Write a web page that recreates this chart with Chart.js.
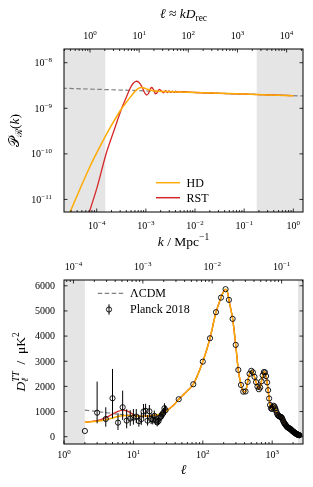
<!DOCTYPE html>
<html lang="en">
<head>
<meta charset="UTF-8">
<title>Primordial spectrum and CMB TT</title>
<script src="https://cdn.jsdelivr.net/npm/chart.js@4"></script>
<style>
  html, body { margin: 0; padding: 0; background: #fff; }
  canvas { display: block; }
</style>
</head>
<body>
<canvas id="pkChart" width="313" height="252"></canvas>
<canvas id="clChart" width="313" height="235"></canvas>
<script>
// ---------- top panel: P_R(k) ----------
const D_REC = 13680;                  // Mpc, l ~ k * D_rec
const K_MIN = 2.16e-5, K_MAX = 1.575;
const P_MIN = 5.3e-12, P_MAX = 2.0e-8;
const K_SHADE_LO = 1.5e-4, K_SHADE_HI = 0.18;

const lcdmK = [2e-5, 1e-4, 1e-3, 1e-2, 1e-1, 1, 2];
const lcdmP = [2.76e-9, 2.61e-9, 2.41e-9, 2.22e-9, 2.05e-9, 1.89e-9, 1.85e-9];

const hdK = [2.37e-5, 2.86e-5, 4.57e-5, 7.31e-5, 1.168e-4, 1.865e-4, 2.98e-4, 3.77e-4, 4.76e-4, 5.74e-4,
  6.61e-4, 7.60e-4, 8.75e-4, 1.106e-3, 1.535e-3, 2.452e-3];
const hdP = [3.26e-12, 5.24e-12, 1.70e-11, 5.29e-11, 1.453e-10, 3.70e-10, 8.72e-10, 1.243e-9, 1.725e-9, 2.22e-9,
  2.61e-9, 2.83e-9, 2.83e-9, 2.585e-9, 2.395e-9, 2.335e-9];

const rstK = [5.78e-5, 7.06e-5, 1.01e-4, 1.55e-4, 2.23e-4, 3.23e-4, 3.95e-4, 4.76e-4, 5.48e-4, 6.31e-4,
  7.26e-4, 8.36e-4, 9.40e-4, 1.03e-3, 1.13e-3, 1.21e-3, 1.31e-3, 1.43e-3, 1.56e-3, 1.69e-3,
  1.85e-3, 2.03e-3, 2.29e-3, 2.53e-3, 2.74e-3, 2.96e-3, 3.21e-3, 3.45e-3, 3.74e-3, 4.05e-3,
  4.38e-3, 4.73e-3, 5.12e-3, 5.52e-3, 7.91e-3];
const rstP = [2.75e-12, 5.24e-12, 1.79e-11, 9.95e-11, 3.18e-10, 1.0e-9, 1.68e-9, 2.72e-9, 3.50e-9, 3.91e-9,
  3.68e-9, 2.93e-9, 2.22e-9, 1.96e-9, 2.11e-9, 2.58e-9, 2.86e-9, 2.58e-9, 2.09e-9, 2.19e-9,
  2.58e-9, 2.45e-9, 2.19e-9, 2.44e-9, 2.22e-9, 2.42e-9, 2.23e-9, 2.39e-9, 2.24e-9, 2.37e-9,
  2.25e-9, 2.35e-9, 2.27e-9, 2.32e-9, 2.24e-9];

// ---------- bottom panel: D_l^TT ----------
const L_MIN = 1, L_MAX = 2780;
const D_MIN = -290, D_MAX = 6230;
const L_SHADE_LO = 2, L_SHADE_HI = 2350;
const dTicks = [0, 1000, 2000, 3000, 4000, 5000, 6000];

// Planck 2018, low l (unbinned) with error bar ends
const lowL  = [2, 3, 4, 5, 6, 7, 8, 9, 10, 11, 12, 13, 14, 15, 16, 17, 18, 19, 20, 21, 22, 23, 24, 25, 26, 27, 28, 29];
const lowD  = [227, 955, 704, 1528, 560, 1170, 640, 720, 760, 800, 620, 700, 1000, 1030, 640, 1010, 700, 680, 830, 650, 570, 620, 760, 800, 880, 950, 1130, 1050];
const lowLo = [227, 533, 398, 732, 267, 665, 334, 430, 480, 540, 400, 470, 740, 780, 440, 780, 500, 490, 640, 480, 410, 460, 580, 620, 700, 770, 940, 870];
const lowHi = [227, 2189, 1170, 2694, 931, 1831, 1090, 1050, 1100, 1100, 870, 950, 1300, 1310, 860, 1260, 920, 890, 1040, 840, 750, 800, 950, 1000, 1070, 1140, 1330, 1240];

// Planck 2018, binned high l
const highL = [45, 73, 100, 127, 155, 183, 213, 238, 269, 298, 325, 355, 383, 413, 443, 472, 500, 528, 556, 585,
  614, 643, 672, 700, 729, 758, 787, 816, 845, 874, 903, 932, 961, 990, 1019, 1048, 1077, 1106, 1135, 1164,
  1193, 1222, 1251, 1280, 1309, 1338, 1367, 1396, 1425, 1454, 1483, 1512, 1541, 1570, 1599, 1628, 1657, 1686, 1715, 1744,
  1773, 1802, 1831, 1860, 1889, 1918, 1947, 1976, 2005, 2034, 2063, 2092, 2121, 2150, 2179, 2208, 2237, 2266, 2295, 2324,
  2353, 2382, 2411, 2440, 2469];
const highD = [1490, 2085, 2985, 3915, 4950, 5530, 5866, 5440, 4685, 3650, 2655, 2058, 1790, 1800, 2180, 2500, 2620, 2560, 2380, 2170,
  1990, 1886, 1960, 2200, 2440, 2570, 2560, 2410, 2160, 1850, 1520, 1260, 1130, 1100, 1170, 1230, 1200, 1130, 1040, 950,
  880, 840, 820, 805, 795, 785, 765, 720, 660, 600, 555, 520, 490, 460, 430, 400, 380, 365, 350, 340,
  325, 315, 305, 290, 270, 250, 235, 220, 205, 195, 180, 165, 150, 140, 130, 120, 110, 100, 92, 85,
  78, 72, 68, 62, 57];

// model curves
const lcdmL = [2, 3, 4, 5, 6, 7, 8, 10, 12, 15, 20, 25, 30, 35, 40, 45, 55, 73, 100, 127, 155, 183, 200, 213, 226, 238,
  269, 298, 325, 355, 383, 413, 443, 472, 500, 528, 556, 585, 614, 643, 672, 700, 729, 758, 787, 816, 845, 874, 903, 932, 961,
  990, 1019, 1048, 1077, 1106, 1135, 1164, 1193, 1222, 1280, 1338, 1396, 1454, 1512, 1570, 1628, 1686, 1744, 1802,
  1860, 1918, 1976, 2034, 2092, 2150, 2208, 2266, 2324, 2382, 2440, 2500];
const lcdmD = [1060, 1000, 960, 925, 895, 875, 860, 840, 830, 830, 850, 900, 1020, 1170, 1320, 1490, 1720, 2085, 2985, 3915, 4950, 5530, 5780, 5860, 5760, 5440,
  4685, 3650, 2655, 2058, 1790, 1800, 2180, 2500, 2620, 2560, 2380, 2170, 1990, 1886, 1960, 2200, 2440, 2570, 2560, 2410, 2160, 1850, 1520, 1260, 1130,
  1100, 1170, 1230, 1200, 1130, 1040, 950, 880, 840, 805, 785, 720, 600, 520, 460, 400, 365, 340, 315,
  290, 250, 220, 195, 165, 140, 120, 100, 85, 72, 62, 55];
const hdLowL = [2, 3, 4, 5, 6, 7, 8, 9, 10, 12, 15, 20];
const hdLowD = [575, 610, 670, 740, 800, 835, 845, 840, 830, 810, 815, 850];
const rstLowL = [2, 3, 4, 5, 6, 7, 8, 9, 10, 11, 12, 13, 15, 20];
const rstLowD = [575, 640, 760, 900, 1010, 1060, 1030, 960, 880, 830, 810, 805, 815, 850];

const ORANGE = '#ffab00', RED = '#d62728', GREY = '#808080', SHADE = '#e5e5e5';
const SERIF = "'Liberation Serif', 'DejaVu Serif', serif";

const pairs = (xs, ys) => xs.map((x, i) => ({ x, y: ys[i] }));

// ---------- text helpers (sub/superscripts) ----------
function richItems(ctx, parts, size) {
  return parts.map(([t, s = '']) => {
    const small = s.includes('^') || s.includes('_');
    const f = (s.includes('i') ? 'italic ' : '') + (small ? size * 0.7 : size) + 'px ' + SERIF;
    ctx.font = f;
    return { t, f, w: ctx.measureText(t).width,
      dy: s.includes('^') ? -size * 0.4 : s.includes('_') ? size * 0.25 : 0,
      hold: s.includes('=') };
  });
}
function drawRich(ctx, parts, x, y, align, size) {
  const items = richItems(ctx, parts, size);
  let total = 0, held = 0;
  items.forEach(it => { if (it.hold) { held = it.w; return; } total += Math.max(it.w, held); held = 0; });
  let cx = align === 'center' ? x - total / 2 : align === 'right' ? x - total : x;
  held = 0;
  ctx.textAlign = 'left';
  ctx.textBaseline = 'alphabetic';
  ctx.fillStyle = '#000';
  items.forEach(it => {
    ctx.font = it.f;
    ctx.fillText(it.t, cx, y + it.dy);
    if (it.hold) { held = it.w; return; }
    cx += Math.max(it.w, held); held = 0;
  });
}
function drawRotated(ctx, parts, x, y, size) {
  ctx.save();
  ctx.translate(x, y);
  ctx.rotate(-Math.PI / 2);
  drawRich(ctx, parts, 0, 0, 'center', size);
  ctx.restore();
}
function expLabel(v) {
  const e = Math.round(Math.log10(v));
  return [['10'], [(e < 0 ? '\u2212' : '') + Math.abs(e), '^']];
}
function logTicks(min, max) {
  const major = [], minor = [];
  for (let e = Math.floor(Math.log10(min)); e <= Math.ceil(Math.log10(max)); e++) {
    for (let m = 1; m < 10; m++) {
      const v = m * Math.pow(10, e);
      if (v < min || v > max) continue;
      (m === 1 ? major : minor).push(v);
    }
  }
  return { major, minor };
}
function ticks(ctx, scale, values, side, len, ca) {
  ctx.beginPath();
  values.forEach(v => {
    const p = scale.getPixelForValue(v);
    if (side === 'bottom') { ctx.moveTo(p, ca.bottom); ctx.lineTo(p, ca.bottom - len); }
    if (side === 'top') { ctx.moveTo(p, ca.top); ctx.lineTo(p, ca.top + len); }
    if (side === 'left') { ctx.moveTo(ca.left, p); ctx.lineTo(ca.left + len, p); }
    if (side === 'right') { ctx.moveTo(ca.right, p); ctx.lineTo(ca.right - len, p); }
  });
  ctx.stroke();
}
function frame(ctx, ca) {
  ctx.strokeRect(ca.left, ca.top, ca.right - ca.left, ca.bottom - ca.top);
}
function shade(ctx, ca, scale, lo, hi) {
  ctx.save();
  ctx.fillStyle = SHADE;
  const a = scale.getPixelForValue(lo), b = scale.getPixelForValue(hi);
  ctx.fillRect(ca.left, ca.top, a - ca.left, ca.bottom - ca.top);
  ctx.fillRect(b, ca.top, ca.right - b, ca.bottom - ca.top);
  ctx.restore();
}

const TICK_FS = 10, LEGEND_FS = 12, AXIS_FS = 13.5;

// ---------- top chart ----------
const pkPlugin = {
  id: 'pkAxes',
  beforeDatasetsDraw(chart) {
    shade(chart.ctx, chart.chartArea, chart.scales.x, K_SHADE_LO, K_SHADE_HI);
  },
  afterDatasetsDraw(chart) {
    const { ctx, chartArea: ca, scales: { x, x2, y } } = chart;
    ctx.save();
    ctx.strokeStyle = '#000';
    ctx.lineWidth = 0.8;
    const kt = logTicks(K_MIN, K_MAX), lt = logTicks(K_MIN * D_REC, K_MAX * D_REC), pt = logTicks(P_MIN, P_MAX);
    ticks(ctx, x, kt.major, 'bottom', 3.5, ca);
    ticks(ctx, x, kt.minor, 'bottom', 2, ca);
    ticks(ctx, x2, lt.major, 'top', 3.5, ca);
    ticks(ctx, x2, lt.minor, 'top', 2, ca);
    ticks(ctx, y, pt.major, 'left', 3.5, ca);
    ticks(ctx, y, pt.major, 'right', 3.5, ca);
    ctx.lineWidth = 1;
    frame(ctx, ca);
    ctx.restore();
  },
  afterDraw(chart) {
    const { ctx, chartArea: ca, scales: { x, x2, y } } = chart;
    const kt = logTicks(K_MIN, K_MAX), lt = logTicks(K_MIN * D_REC, K_MAX * D_REC), pt = logTicks(P_MIN, P_MAX);
    kt.major.forEach(v => drawRich(ctx, expLabel(v), x.getPixelForValue(v), 228.5, 'center', TICK_FS));
    lt.major.forEach(v => drawRich(ctx, expLabel(v), x2.getPixelForValue(v), 39.3, 'center', TICK_FS));
    pt.major.forEach(v => drawRich(ctx, expLabel(v), 52, y.getPixelForValue(v) + 3.3, 'right', TICK_FS));
    const cx = (ca.left + ca.right) / 2;
    drawRich(ctx, [['\u2113', 'i'], [' \u2248 '], ['k', 'i'], ['D', 'i'], ['rec', '_']], cx, 17.5, 'center', AXIS_FS);
    drawRich(ctx, [['k', 'i'], [' / Mpc'], ['\u22121', '^']], cx, 245.5, 'center', AXIS_FS);
    drawRotated(ctx, [['\ud835\udcab'], ['\u211b', '_'], ['('], ['k', 'i'], [')']], 19, (ca.top + ca.bottom) / 2, AXIS_FS);
    // legend
    ctx.save();
    ctx.lineWidth = 1.5;
    ctx.strokeStyle = ORANGE;
    ctx.beginPath(); ctx.moveTo(156, 182.7); ctx.lineTo(180, 182.7); ctx.stroke();
    ctx.strokeStyle = RED;
    ctx.beginPath(); ctx.moveTo(156, 197.7); ctx.lineTo(180, 197.7); ctx.stroke();
    ctx.restore();
    drawRich(ctx, [['HD']], 186.5, 186.8, 'left', LEGEND_FS);
    drawRich(ctx, [['RST']], 186.5, 201.8, 'left', LEGEND_FS);
  }
};

const lcdmTop = pairs(lcdmK, lcdmP);
const tailTop = lcdmTop.filter(p => p.x >= 1e-2 && p.x <= 1);

new Chart(document.getElementById('pkChart'), {
  type: 'line',
  data: {
    datasets: [
      { label: 'HD', data: pairs(hdK, hdP).concat(tailTop), borderColor: ORANGE, borderWidth: 1.5, pointRadius: 0, tension: 0.35 },
      { label: 'RST', data: pairs(rstK, rstP).concat(tailTop), borderColor: RED, borderWidth: 1.3, pointRadius: 0, tension: 0.3 },
      { label: '\u039bCDM', data: lcdmTop, borderColor: GREY, borderWidth: 1.2, borderDash: [4.5, 2.5], pointRadius: 0, tension: 0 }
    ]
  },
  options: {
    responsive: false, animation: false, devicePixelRatio: 1,
    layout: { padding: { left: 64, right: 10, top: 49, bottom: 40 } },
    plugins: { legend: { display: false }, tooltip: { enabled: false } },
    scales: {
      x: { type: 'logarithmic', min: K_MIN, max: K_MAX, bounds: 'data', display: false },
      x2: { type: 'logarithmic', position: 'top', min: K_MIN * D_REC, max: K_MAX * D_REC, bounds: 'data', display: false },
      y: { type: 'logarithmic', min: P_MIN, max: P_MAX, bounds: 'data', display: false }
    }
  },
  plugins: [pkPlugin]
});

// ---------- bottom chart ----------
const PLANCK_INDEX = 0;
const clPlugin = {
  id: 'clAxes',
  beforeDatasetsDraw(chart) {
    shade(chart.ctx, chart.chartArea, chart.scales.x, L_SHADE_LO, L_SHADE_HI);
  },
  beforeDatasetDraw(chart, args) {
    if (args.index !== PLANCK_INDEX) return;
    const { ctx, scales: { x, y } } = chart;
    ctx.save();
    ctx.strokeStyle = '#000';
    ctx.lineWidth = 1;
    ctx.beginPath();
    lowL.forEach((l, i) => {
      if (lowHi[i] === lowLo[i]) return;
      const px = x.getPixelForValue(l);
      ctx.moveTo(px, y.getPixelForValue(lowLo[i]));
      ctx.lineTo(px, y.getPixelForValue(lowHi[i]));
    });
    ctx.stroke();
    ctx.restore();
  },
  afterDatasetsDraw(chart) {
    const { ctx, chartArea: ca, scales: { x, x2, y } } = chart;
    ctx.save();
    ctx.strokeStyle = '#000';
    ctx.lineWidth = 0.8;
    const lt = logTicks(L_MIN, L_MAX), kt = logTicks(L_MIN / D_REC, L_MAX / D_REC);
    ticks(ctx, x, lt.major, 'bottom', 3.5, ca);
    ticks(ctx, x, lt.minor, 'bottom', 2, ca);
    ticks(ctx, x2, kt.major, 'top', 3.5, ca);
    ticks(ctx, x2, kt.minor, 'top', 2, ca);
    ticks(ctx, y, dTicks, 'left', 3.5, ca);
    ticks(ctx, y, dTicks, 'right', 3.5, ca);
    ctx.lineWidth = 1;
    frame(ctx, ca);
    ctx.restore();
  },
  afterDraw(chart) {
    const { ctx, chartArea: ca, scales: { x, x2, y } } = chart;
    const lt = logTicks(L_MIN, L_MAX), kt = logTicks(L_MIN / D_REC, L_MAX / D_REC);
    lt.major.forEach(v => drawRich(ctx, expLabel(v), x.getPixelForValue(v), 205.5, 'center', TICK_FS));
    kt.major.forEach(v => drawRich(ctx, expLabel(v), x2.getPixelForValue(v), 18, 'center', TICK_FS));
    dTicks.forEach(v => drawRich(ctx, [[String(v)]], 55, y.getPixelForValue(v) + 3.3, 'right', TICK_FS));
    drawRich(ctx, [['\u2113', 'i']], (ca.left + ca.right) / 2, 222, 'center', AXIS_FS);
    drawRotated(ctx, [['D', 'i'], ['TT', '^i='], ['\u2113', '_i'], ['\u2002/\u2002\u03bcK'], ['2', '^']], 24.5, (ca.top + ca.bottom) / 2, AXIS_FS);
    // legend
    ctx.save();
    ctx.strokeStyle = GREY;
    ctx.lineWidth = 1.2;
    ctx.setLineDash([4.5, 2.5]);
    ctx.beginPath(); ctx.moveTo(97.7, 41.3); ctx.lineTo(124, 41.3); ctx.stroke();
    ctx.setLineDash([]);
    ctx.strokeStyle = '#000';
    ctx.lineWidth = 1;
    ctx.beginPath(); ctx.moveTo(109, 52.3); ctx.lineTo(109, 62.7); ctx.stroke();
    ctx.lineWidth = 0.9;
    ctx.beginPath(); ctx.arc(109, 57.5, 2.6, 0, Math.PI * 2); ctx.stroke();
    ctx.restore();
    drawRich(ctx, [['\u039bCDM']], 130, 45.3, 'left', LEGEND_FS);
    drawRich(ctx, [['Planck 2018']], 130, 61.3, 'left', LEGEND_FS);
  }
};

const lcdmBottom = pairs(lcdmL, lcdmD);
const tailBottom = lcdmBottom.filter(p => p.x > 20);

new Chart(document.getElementById('clChart'), {
  type: 'line',
  data: {
    datasets: [
      { label: 'Planck 2018', data: pairs(lowL, lowD).concat(pairs(highL, highD)), showLine: false,
        pointRadius: 2.6, pointBorderWidth: 0.9, pointBorderColor: '#000', pointBackgroundColor: 'rgba(0,0,0,0)' },
      { label: 'HD', data: pairs(hdLowL, hdLowD).concat(tailBottom), borderColor: ORANGE, borderWidth: 1.5, pointRadius: 0, tension: 0.3 },
      { label: 'RST', data: pairs(rstLowL, rstLowD).concat(tailBottom), borderColor: RED, borderWidth: 1.3, pointRadius: 0, tension: 0.3 },
      { label: '\u039bCDM', data: lcdmBottom, borderColor: GREY, borderWidth: 1.2, borderDash: [4.5, 2.5], pointRadius: 0, tension: 0.3 }
    ]
  },
  options: {
    responsive: false, animation: false, devicePixelRatio: 1,
    layout: { padding: { left: 64, right: 10, top: 28, bottom: 43 } },
    plugins: { legend: { display: false }, tooltip: { enabled: false } },
    scales: {
      x: { type: 'logarithmic', min: L_MIN, max: L_MAX, bounds: 'data', display: false },
      x2: { type: 'logarithmic', position: 'top', min: L_MIN / D_REC, max: L_MAX / D_REC, bounds: 'data', display: false },
      y: { type: 'linear', min: D_MIN, max: D_MAX, bounds: 'data', display: false }
    }
  },
  plugins: [clPlugin]
});
</script>
</body>
</html>
